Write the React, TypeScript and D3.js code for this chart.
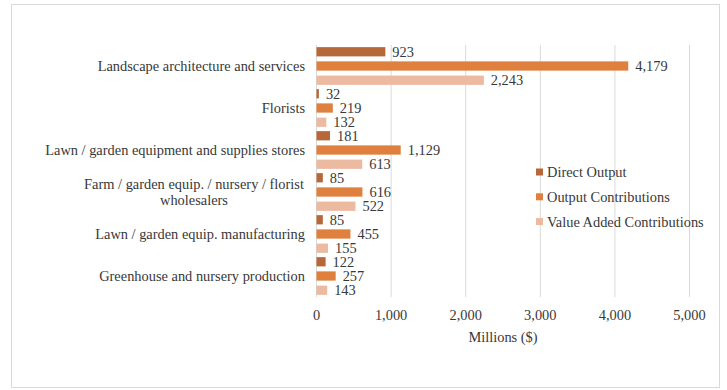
import React from "react";
import * as d3 from "d3";

const categories = [
  "Landscape architecture and services",
  "Florists",
  "Lawn / garden equipment and supplies stores",
  "Farm / garden equip. / nursery / florist wholesalers",
  "Lawn / garden equip. manufacturing",
  "Greenhouse and nursery production",
];
const categoryLines = [
  ["Landscape architecture and services"],
  ["Florists"],
  ["Lawn / garden equipment and supplies stores"],
  ["Farm / garden equip. / nursery / florist", "wholesalers"],
  ["Lawn / garden equip. manufacturing"],
  ["Greenhouse and nursery production"],
];
const seriesNames = ["Direct Output", "Output Contributions", "Value Added Contributions"];
const directOutput = [923, 32, 181, 85, 85, 122];
const outputContributions = [4179, 219, 1129, 616, 455, 257];
const valueAdded = [2243, 132, 613, 522, 155, 143];
const seriesValues = [directOutput, outputContributions, valueAdded];
const colors = ["#B7683A", "#E0803F", "#ECB9A1"];
const xTicks = [0, 1000, 2000, 3000, 4000, 5000];

const FONT = "Liberation Serif";

export default function App() {
  const W = 727, H = 390;
  const x0 = 316.5, x1 = 689.5, yTop = 45, yBot = 297;
  const x = d3.scaleLinear().domain([0, 5000]).range([x0, x1]);
  const y = d3.scaleBand<string>().domain(categories).range([yTop, yBot]).padding(0);
  const ys = d3
    .scaleBand<string>()
    .domain(seriesNames)
    .range([0, y.bandwidth()])
    .paddingInner(0.35)
    .paddingOuter(0.15);
  const fmt = d3.format(",");
  const textColor = "#383838";

  const T = (props: any) => (
    <text fontFamily={FONT} fontSize={14.4} fill={textColor} {...props} />
  );

  return (
    <svg width={W} height={H} style={{ position: "absolute", left: 0, top: 0 }}>
      <rect x={0} y={0} width={W} height={H} fill="#fff" />
      <rect x={11.5} y={4.5} width={708} height={383} fill="#fff" stroke="#d9d9d9" strokeWidth={1} />
      {xTicks.map((t) => (
        <line key={t} x1={x(t)} x2={x(t)} y1={yTop} y2={yBot} stroke="#d9d9d9" strokeWidth={1} />
      ))}
      {categories.map((c, ci) =>
        seriesNames.map((s, si) => {
          const v = seriesValues[si][ci];
          const by = (y(c) as number) + (ys(s) as number);
          const bh = ys.bandwidth();
          return (
            <g key={c + s}>
              <rect x={x(0)} y={by} width={x(v) - x(0)} height={bh} fill={colors[si]} />
              <T x={x(v) + 7} y={by + bh / 2} dy="0.35em">
                {fmt(v)}
              </T>
            </g>
          );
        })
      )}
      {categories.map((c, ci) => {
        const lines = categoryLines[ci];
        const cy = (y(c) as number) + y.bandwidth() / 2;
        if (lines.length === 1) {
          return (
            <T key={c} x={305} y={cy} dy="0.35em" textAnchor="end">
              {lines[0]}
            </T>
          );
        }
        return (
          <T key={c} x={194} y={cy} textAnchor="middle">
            {lines.map((l, li) => (
              <tspan key={li} x={194} y={cy + (li - (lines.length - 1) / 2) * 16} dy="0.35em">
                {l}
              </tspan>
            ))}
          </T>
        );
      })}
      {xTicks.map((t) => (
        <T key={"t" + t} x={x(t)} y={315} dy="0.35em" textAnchor="middle">
          {fmt(t)}
        </T>
      ))}
      <T x={(x0 + x1) / 2} y={337} dy="0.35em" textAnchor="middle">
        Millions ($)
      </T>
      {seriesNames.map((s, si) => (
        <g key={"lg" + s} transform={`translate(536, ${172 + si * 24.8})`}>
          <rect x={0} y={-3.5} width={7} height={7} fill={colors[si]} />
          <T x={11} y={0} dy="0.35em">
            {s}
          </T>
        </g>
      ))}
    </svg>
  );
}
